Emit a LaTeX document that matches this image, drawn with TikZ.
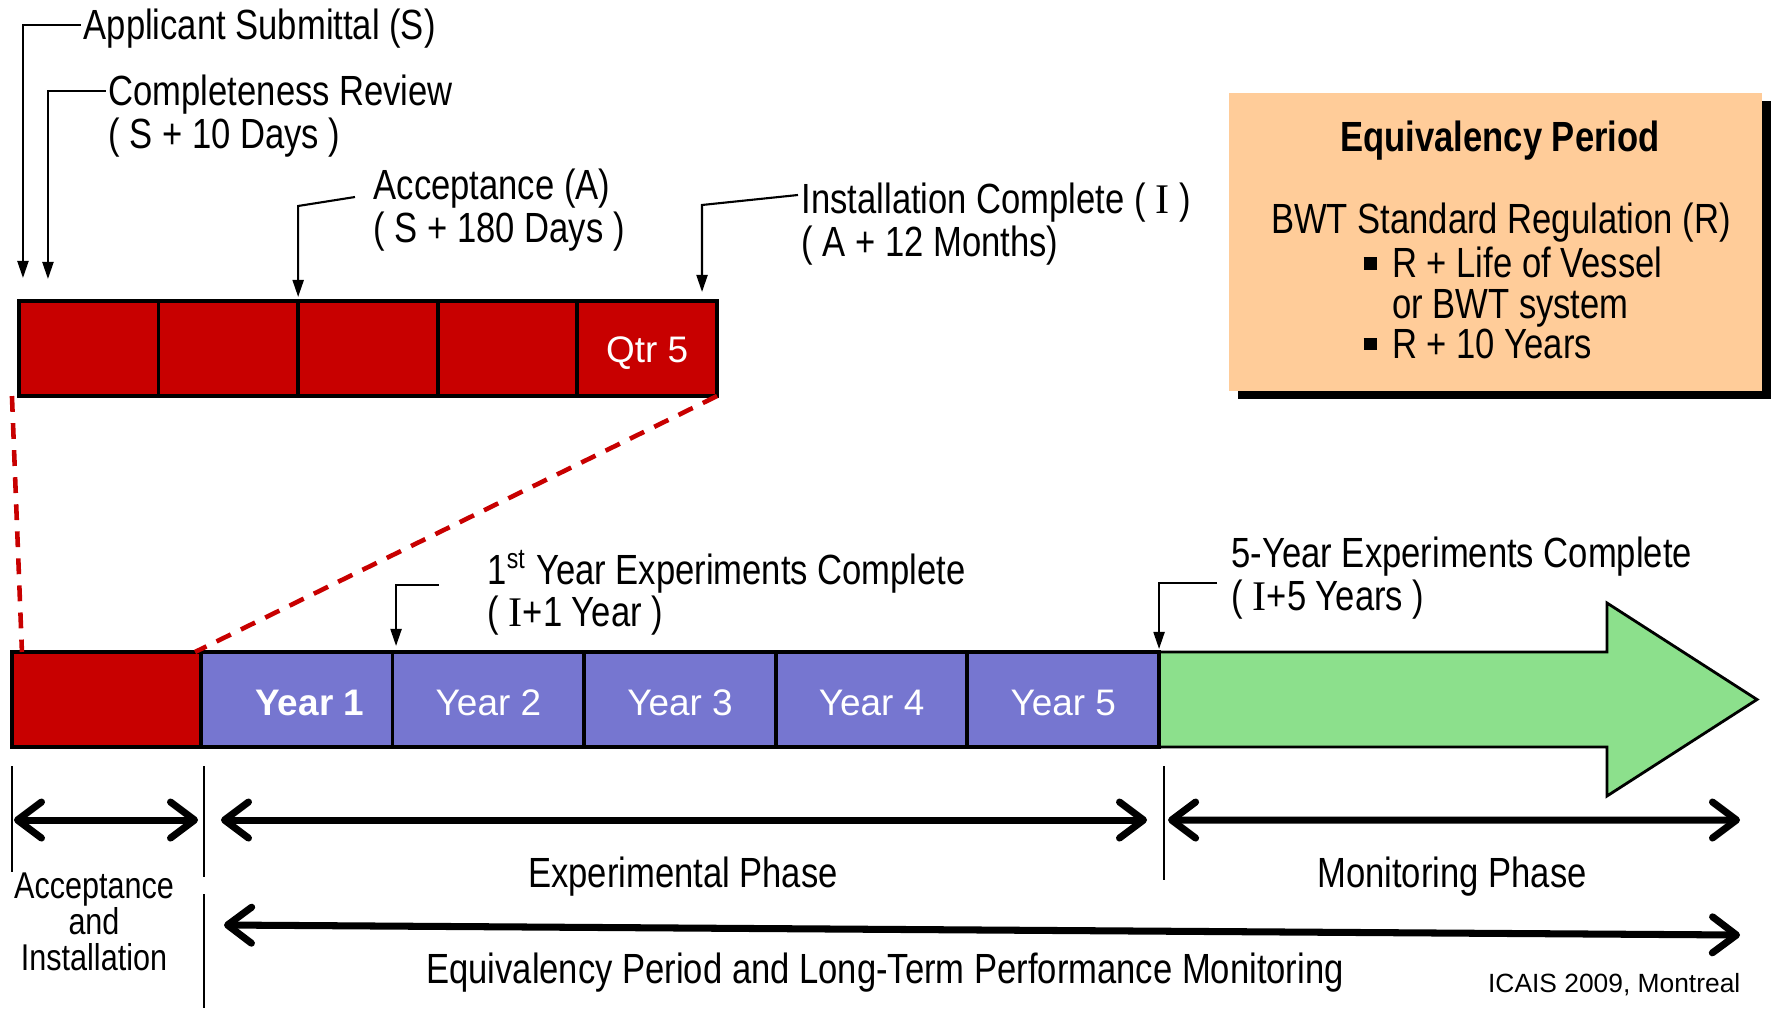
\documentclass[tikz,border=0pt]{standalone}
\usepackage{fontspec}
\setmainfont{Liberation Sans}[FakeStretch=0.82]
\newfontfamily\widefont{Liberation Sans}
\newfontfamily\serifI{Liberation Serif}
\usetikzlibrary{arrows.meta,shadows}

\definecolor{barred}{RGB}{200,0,0}
\definecolor{yearblue}{RGB}{118,118,208}
\definecolor{phasegreen}{RGB}{140,224,140}
\definecolor{boxorange}{RGB}{255,204,153}

\begin{document}
\begin{tikzpicture}[x=0.01cm,y=-0.01cm,
    qcell/.style={draw=black,line width=1.1pt,fill=barred,minimum width=1.396cm,minimum height=0.95cm,inner sep=0,outer sep=0,text=white,text height=7.8pt,text depth=0pt,font=\cellfontsize},
    ycell/.style={qcell,fill=yearblue,minimum width=1.916cm,text height=8.9pt},
    lbl/.style={inner sep=0,align=left,font=\labelfontsize},
    leader/.style={line width=0.6pt,-{Triangle[length=0.17cm,width=0.11cm]}},
    phasespan/.style={line width=2pt,{Straight Barb[round,length=0.24cm,width=0.36cm]}-{Straight Barb[round,length=0.24cm,width=0.36cm]}},
    sepline/.style={line width=0.5pt}]
    \pgfmathsetmacro{\qwidth}{139.6}
    \pgfmathsetmacro{\ywidth}{191.6}
    \pgfmathsetmacro{\topmid}{348.5}
    \pgfmathsetmacro{\botmid}{699.5}
    \pgfmathsetmacro{\spany}{73}
    \providecommand{\labelfontsize}{\fontsize{12}{12}\selectfont}
    \providecommand{\cellfontsize}{\widefont\fontsize{10.5}{12}\selectfont}
    \providecommand{\sqbullet}{\rule[2.3pt]{3.8pt}{3.6pt}\hspace{4.3pt}}
    \useasboundingbox (0,0) rectangle (1775,1008);
    % monitoring arrow behind the bar
    \draw[line width=0.8pt,fill=phasegreen] (1159,652) -- (1607,652) -- (1607,603) -- (1757,\botmid) -- (1607,796) -- (1607,747) -- (1159,747) -- cycle;
    \foreach \i/\t in {1/,2/,3/,4/,5/Qtr 5}
        \node[qcell] (q\i) at ({19+(\i-0.5)*\qwidth},\topmid) {\t};
    \node[qcell,minimum width=1.89cm] (acc) at (106.5,\botmid) {};
    \foreach \i in {1,...,5}
        \node[ycell] (y\i) at ({201+(\i-0.5)*\ywidth},\botmid) {\ifnum\i=1 \bfseries\hspace*{0.26cm}\fi Year \i};
    \draw[barred,line width=1.3pt,dash pattern=on 4.5pt off 3.2pt] ([xshift=-0.07cm]q1.south west) -- ([xshift=0.1cm]acc.north west);
    \draw[barred,line width=1.3pt,dash pattern=on 4.5pt off 3.2pt] (q5.south east) -- ([xshift=-0.06cm]acc.north east);

    \node[lbl,anchor=west] (subm) at (83,29) {Applicant Submittal (S)};
    \node[lbl,anchor=west] (compl) at (108,116) {Completeness Review\\( S + 10 Days )};
    \node[lbl,anchor=west] (accept) at (373,210) {Acceptance (A)\\( S + 180 Days )};
    \node[lbl,anchor=west] (instal) at (801,224) {Installation Complete ( {\serifI I} )\\( A + 12 Months)};
    \node[lbl,anchor=west] (yronedone) at (487,593) {1\textsuperscript{st} Year Experiments Complete\\( {\serifI I}+1 Year )};
    \node[lbl,anchor=west] (yrfivedone) at (1231,578) {5-Year Experiments Complete\\( {\serifI I}+5 Years )};
    \draw[leader] ([xshift=-0.02cm,yshift=0.04cm]subm.west) -| ([shift={(4,-23)}]q1.north west);
    \draw[leader] ([xshift=-0.02cm,yshift=0.25cm]compl.west) -| ([shift={(29,-22)}]q1.north west);
    \draw[leader] ([xshift=-0.18cm,yshift=0.13cm]accept.west) -- ([shift={(0,-95)}]q3.north west) -- ([shift={(0,-4)}]q3.north west);
    \draw[leader] ([xshift=-0.03cm,yshift=0.29cm]instal.west) -- ([shift={(-15,-96)}]q5.north east) -- ([shift={(-15,-9)}]q5.north east);
    \draw[leader] ([xshift=-0.48cm,yshift=0.08cm]yronedone.west) -| ([shift={(3.4,-6)}]y1.north east);
    \draw[leader] ([xshift=-0.14cm,yshift=-0.05cm]yrfivedone.west) -| ([shift={(0,-3)}]y5.north east);

    \node[fill=boxorange,minimum width=5.33cm,minimum height=2.98cm,drop shadow={shadow xshift=0.09cm,shadow yshift=-0.08cm,opacity=1,fill=black}] (eqbox) at (1495.5,242) {};
    \node[lbl,font=\labelfontsize\bfseries] (eqtitle) at (1500,141) {Equivalency Period};
    \node[lbl] (bwt) at (1501,222.5) {BWT Standard Regulation (R)};
    \node[lbl,anchor=west,font=\fontsize{12}{11.5}\selectfont] (bwtlist) at (1363,303) {\sqbullet R + Life of Vessel\\\phantom{\sqbullet}or BWT system\\\sqbullet R + 10 Years};

    \coordinate (accl) at ([shift={(2,\spany)}]acc.south west);
    \coordinate (accr) at ([shift={(-3,\spany)}]acc.south east);
    \coordinate (expl) at ([shift={(20,\spany)}]y1.south west);
    \coordinate (expr) at ([shift={(-12,\spany)}]y5.south east);
    \coordinate (monl) at ([shift={(9,\spany)}]y5.south east);
    \coordinate (monr) at (1740,820);
    \coordinate (eql) at (224,925);
    \coordinate (eqr) at (1740,935);
    \draw[phasespan] (accl) -- (accr);
    \draw[phasespan] (expl) -- (expr);
    \draw[phasespan] (monl) -- (monr);
    \draw[phasespan] (eql) -- (eqr);
    \draw[sepline] ([shift={(0,19)}]acc.south west) -- ++(0,106);
    \draw[sepline] ([shift={(3,19)}]acc.south east) -- ++(0,111);
    \draw[sepline] ([shift={(3,147)}]acc.south east) -- ++(0,114);
    \draw[sepline] ([shift={(5,19)}]y5.south east) -- ++(0,114);

    \node[lbl,align=center,font=\fontsize{10.6}{10.2}\selectfont] (accinst) at (94,921.5) {Acceptance\\and\\Installation};
    \node[lbl] (exph) at (683,877) {Experimental Phase};
    \node[lbl] (monph) at (1452,877) {Monitoring Phase};
    \node[lbl] (eqlong) at (885,973) {Equivalency Period and Long-Term Performance Monitoring};
    \node[inner sep=0,anchor=east,font=\widefont\fontsize{7.5}{9}\selectfont] (icais) at (1741,985) {ICAIS 2009, Montreal};
\end{tikzpicture}
\end{document}
